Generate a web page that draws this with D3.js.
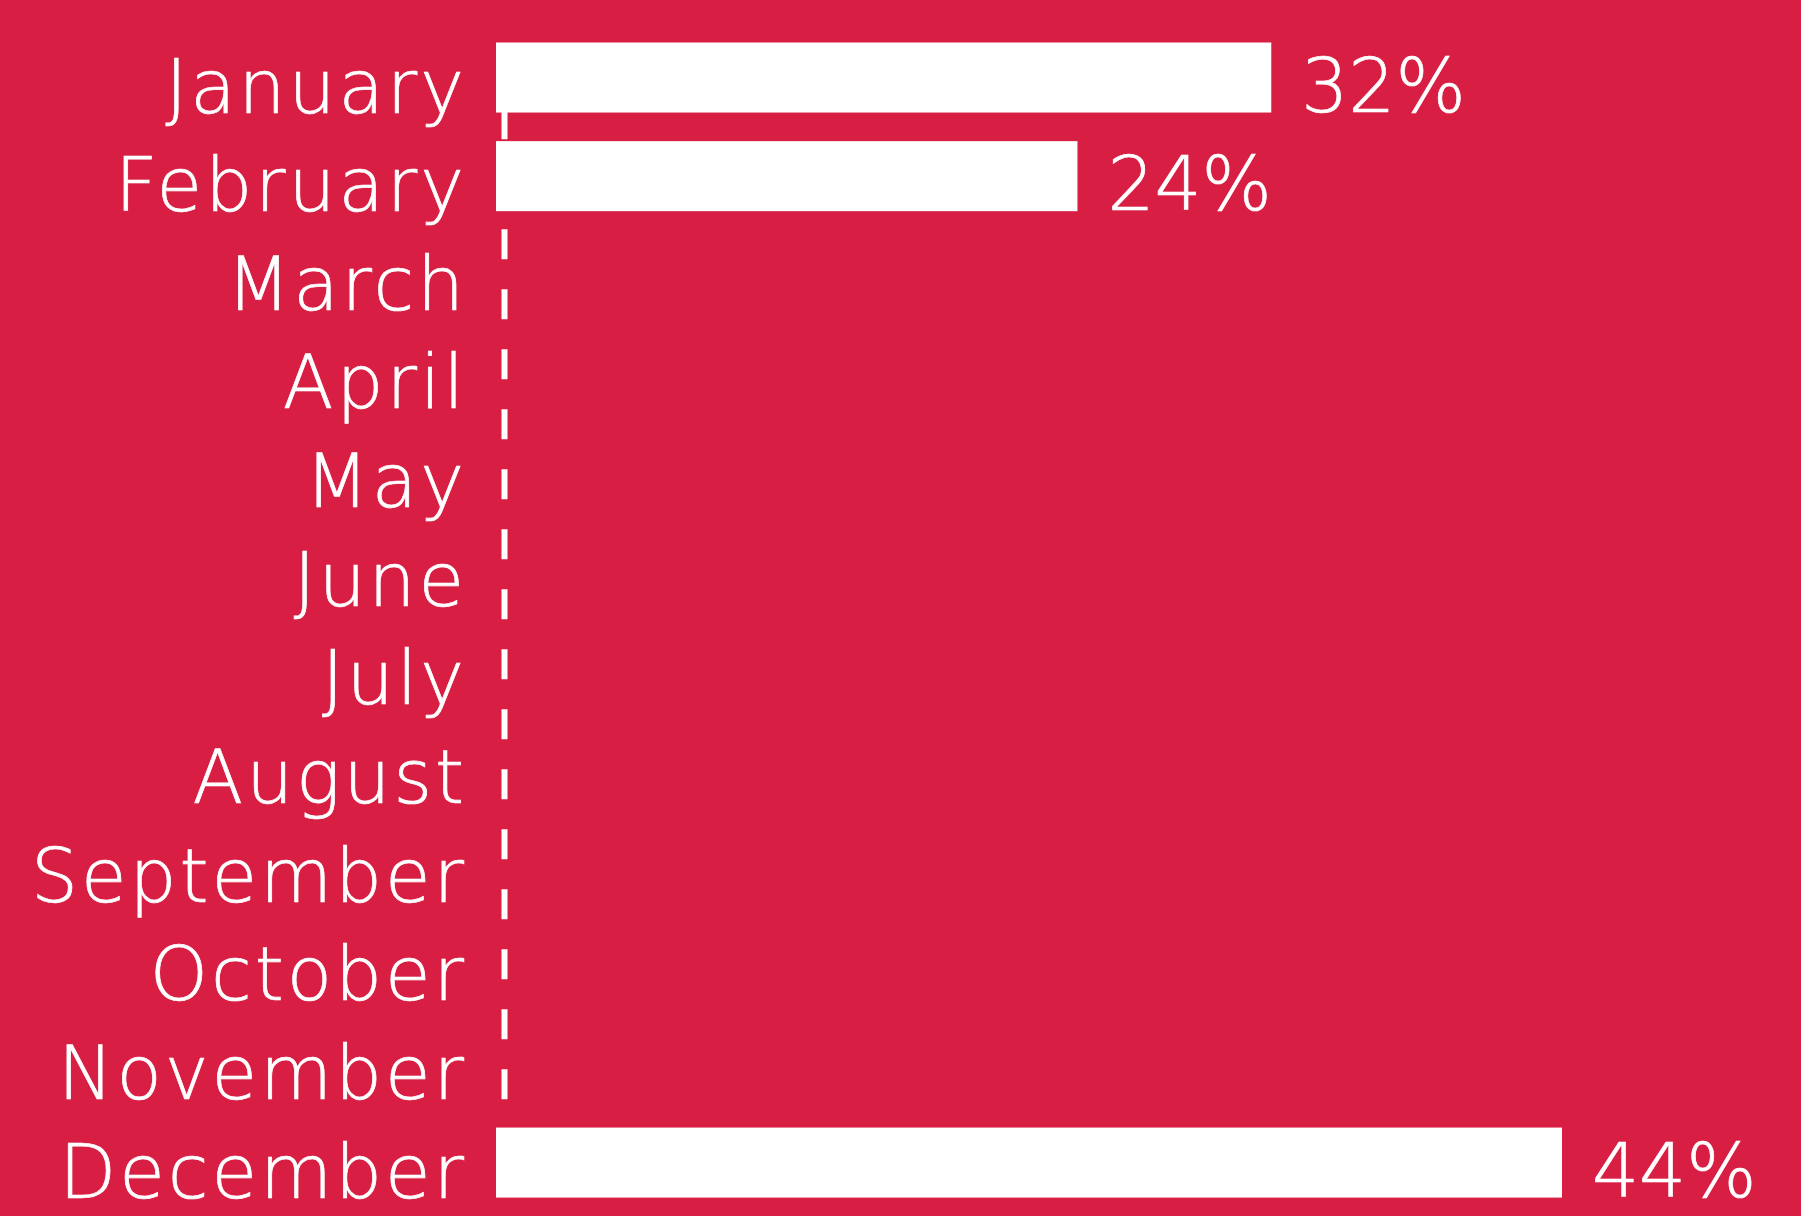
<!DOCTYPE html>
<html>
<head>
<meta charset="utf-8">
<script src="https://cdn.jsdelivr.net/npm/d3@7"></script>
<style>
  html, body { margin: 0; padding: 0; background: #d81e43; }
  svg { display: block; }
  text { font-family: "DejaVu Sans", sans-serif; fill: #fff; stroke: #fff; stroke-width: 0.7px; }
</style>
</head>
<body>
<div id="chart"></div>
<script>
const months = ["January", "February", "March", "April", "May", "June",
  "July", "August", "September", "October", "November", "December"];
const shares = [32, 24, 0, 0, 0, 0, 0, 0, 0, 0, 0, 44];

const width = 1801, height = 1216;
const bg = "#d81e43";

const data = months.map((m, i) => ({ month: m, value: shares[i] }));

const svg = d3.select("#chart").append("svg")
  .attr("width", width)
  .attr("height", height);

svg.append("rect")
  .attr("width", width)
  .attr("height", height)
  .attr("fill", bg);

const y = d3.scaleBand()
  .domain(months)
  .range([28.2, 1211.9])
  .paddingInner(0.29)
  .paddingOuter(0.145);

const x = d3.scaleLinear()
  .domain([0, 44])
  .range([496, 1562]);

// dashed guide line, sits behind the bars
svg.append("line")
  .attr("x1", x(0) + 8.5)
  .attr("x2", x(0) + 8.5)
  .attr("y1", y.range()[0])
  .attr("y2", y("December") + y.bandwidth() / 2)
  .attr("stroke", "#fff")
  .attr("stroke-width", 6)
  .attr("stroke-dasharray", "30,30")
  .attr("stroke-dashoffset", ((y.range()[0] - 49.3) % 60 + 60) % 60);

svg.selectAll(".bar")
  .data(data.filter(d => d.value > 0))
  .join("rect")
  .attr("class", "bar")
  .attr("x", x(0))
  .attr("y", d => y(d.month))
  .attr("width", d => x(d.value) - x(0))
  .attr("height", y.bandwidth())
  .attr("fill", "#fff");

svg.selectAll(".month")
  .data(data)
  .join("text")
  .attr("class", "month")
  .attr("x", 467)
  .attr("y", d => y(d.month) + y.bandwidth() / 2 + 35)
  .attr("text-anchor", "end")
  .attr("font-size", 74)
  .attr("font-weight", 200)
  .attr("letter-spacing", 3)
  .text(d => d.month);

svg.selectAll(".pct")
  .data(data.filter(d => d.value > 0))
  .join("text")
  .attr("class", "pct")
  .attr("x", d => x(d.value) + 30)
  .attr("y", d => y(d.month) + y.bandwidth() - 1)
  .attr("font-size", 74)
  .attr("font-weight", 200)
  .text(d => d.value + "%");
</script>
</body>
</html>
